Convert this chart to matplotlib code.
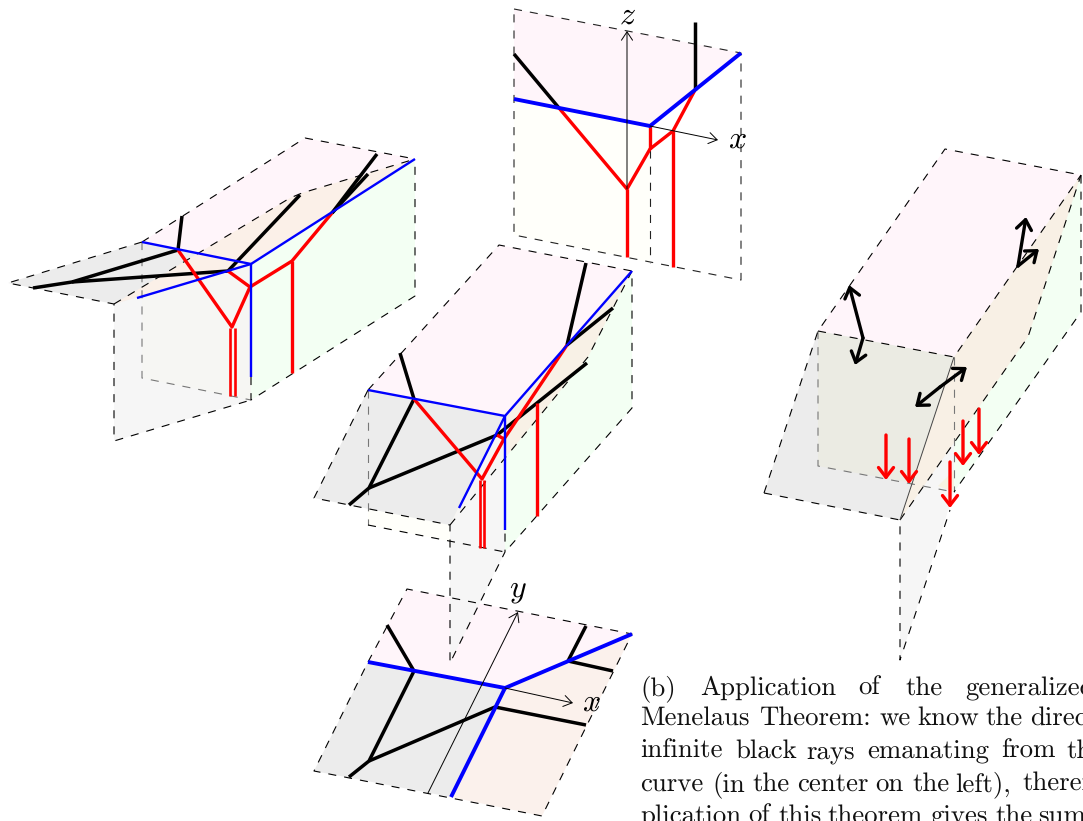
import matplotlib
matplotlib.use('Agg')
import matplotlib.pyplot as plt

PINK = '#fff5fa'
GREY = '#ececec'
ORANGE = '#fbf0e8'
GREEN = '#f3fff3'
FRONT = '#f6f6f6'
YELLOW = '#fffffa'

# left box
left_fills = [
    (FRONT, [(114, 304), (114, 441), (251, 400), (251, 264)]),
    ('#f6f6f3', [(142, 242), (142, 378), (251, 400), (251, 264)]),
    (GREEN, [(251, 264), (415, 159), (415, 296), (251, 400)]),
    (PINK, [(305, 138), (415, 159), (251, 264), (142, 242)]),
    (GREY, [(142, 242), (8, 283), (114, 304), (251, 264)]),
    (ORANGE, [(114, 304), (251, 264), (415, 159), (302, 193), (290, 198)]),
]
left_dashed = [
    [(142, 242), (305, 138), (415, 159)],
    [(142, 242), (8, 283), (114, 304), (114, 441), (251, 400)],
    [(251, 377), (251, 400), (415, 296), (415, 159)],
    [(114, 304), (290, 198), (302, 193), (415, 159)],
]
left_grey_dashed = [[(142, 242), (142, 378), (251, 400)]]
left_black = [
    [(182, 216), (178, 250)],
    [(33, 288), (72, 282), (178, 250)],
    [(72, 282), (228, 271), (300, 195)],
    [(332, 213), (377, 154)],
    [(332, 213), (368, 174)],
]
left_red = [
    [(178, 250), (232, 327), (250, 287), (292, 261), (332, 213)],
    [(228, 271), (250, 287)],
    [(292, 261), (292, 373)],
]
left_double = [[(230, 328), (230, 396)], [(235, 328), (235, 396)]]
left_blue = [
    [(142, 242), (251, 264), (415, 159)],
    [(137, 298), (251, 264), (251, 377)],
]

# middle box
mid_fills = [
    (YELLOW, [(368, 390), (368, 525), (505, 552), (505, 416)]),
    (GREEN, [(505, 416), (632, 271), (632, 408), (505, 552)]),
    (PINK, [(499, 245), (632, 271), (505, 416), (368, 390)]),
    (GREY, [(368, 390), (505, 416), (450, 525), (314, 498)]),
    ('#f8f1e6', [(505, 416), (632, 271), (588, 357), (450, 525)]),
]
mid_front = [(450, 525), (505, 416), (505, 552), (450, 663)]
mid_dashed = [
    [(368, 390), (499, 245), (632, 271), (632, 408), (505, 552)],
    [(368, 390), (314, 498), (450, 525), (450, 663), (505, 552), (505, 530)],
    [(450, 525), (588, 357), (632, 271)],
    [(368, 525), (505, 552)],
]
mid_grey_dashed = [[(368, 390), (368, 525)]]
mid_black = [
    [(400, 353), (414, 399), (369, 488), (349, 505)],
    [(369, 488), (497, 435), (537, 403), (587, 363)],
    [(586, 263), (567, 345)],
    [(567, 345), (613, 308)],
]
mid_red = [
    [(414, 399), (482, 479), (504, 439), (567, 345)],
    [(497, 435), (504, 439)],
    [(537, 403), (537, 516)],
]
mid_double = [[(480, 480), (480, 548)], [(484, 480), (484, 548)]]
mid_blue = [
    [(368, 390), (505, 416), (632, 271)],
    [(505, 416), (505, 530)],
    [(505, 416), (459, 508)],
]

# bottom plane
bot_fills = [
    (PINK, [(407, 589), (632, 634), (505, 688), (368, 662)]),
    (GREY, [(368, 662), (505, 688), (451, 797), (314, 771)]),
    ('#fbf1ec', [(505, 688), (632, 634), (542, 816), (451, 797)]),
]
bot_dashed = [[(368, 662), (407, 589), (632, 634), (542, 816), (314, 771), (368, 662)]]
bot_black = [
    [(387, 625), (414, 671), (369, 761), (349, 777)],
    [(369, 761), (495, 707), (586, 725)],
    [(586, 626), (568, 661), (613, 671)],
]
bot_blue = [
    [(368, 662), (505, 688), (632, 634)],
    [(505, 688), (451, 797)],
]
bot_axes = [((428, 793), (518, 612)), ((505, 688), (573, 703))]

# top plane
top_fills = [
    (PINK, [(514, 9), (741, 53), (650, 126), (514, 99)]),
    (YELLOW, [(514, 99), (650, 126), (650, 262), (514, 235)]),
]
top_dashed = [
    [(514, 9), (741, 53), (741, 280), (514, 235), (514, 9)],
    [(650, 150), (650, 263)],
]
top_black = [[(695, 22), (695, 90)], [(514, 54), (559, 108)]]
top_red = [
    [(559, 108), (627, 189), (650, 149), (673, 131), (695, 90)],
    [(650, 126), (650, 149)],
    [(627, 189), (627, 257)],
    [(673, 131), (673, 267)],
]
top_blue = [[(514, 99), (650, 126), (741, 53)]]
top_axes = [((627, 189), (627, 31)), ((650, 126), (718, 140))]

# right box
right_fills = [
    (FRONT, [(900, 520), (954, 357), (954, 492), (900, 660)]),
    (GREEN, [(954, 357), (1081, 175), (1081, 312), (954, 492)]),
    (PINK, [(945, 149), (1081, 175), (954, 357), (818, 331)]),
    (GREY, [(818, 331), (954, 357), (900, 520), (764, 493)]),
    ('#ebebe3', [(818, 331), (954, 357), (912, 483), (818, 466)]),
    ('#f8f0e5', [(954, 357), (1081, 175), (1028, 337), (900, 520)]),
    ('#f6f3e2', [(938, 486), (954, 492), (954, 470)]),
]
right_dashed = [
    [(764, 493), (818, 331), (945, 149), (1081, 175), (1081, 312), (954, 492)],
    [(818, 331), (954, 357), (1081, 175)],
    [(764, 493), (900, 520), (900, 660), (950, 510)],
    [(900, 520), (1028, 337), (1081, 175)],
]
right_grey_dashed = [
    [(818, 331), (818, 466), (954, 492)],
    [(954, 357), (954, 492)],
]
right_thin = [[(954, 357), (900, 520)]]
black_arrows = [
    ((863, 338), (849, 285)),
    ((863, 338), (855, 365)),
    ((940, 387), (915, 407)),
    ((940, 387), (967, 367)),
    ((1018, 266), (1026, 217)),
    ((1018, 266), (1039, 249)),
]
red_arrows = [
    ((886, 435), (886, 480)),
    ((909, 439), (909, 484)),
    ((963, 421), (963, 466)),
    ((979, 409), (979, 455)),
    ((950, 462), (950, 508)),
]

axis_labels = [('$z$', 627, 15), ('$x$', 737, 139), ('$y$', 518, 590), ('$x$', 591, 702)]

caption_words = [
    (695, [('(b)', 640), ('Application', 700), ('of', 858), ('the', 905), ('generalized', 965)]),
    (725, [('Menelaus', 640), ('Theorem:', 759), ('we', 880), ('know', 917), ('the', 985), ('directions', 1030)]),
    (758, [('infinite', 640), ('black', 735), ('rays', 806), ('emanating', 867), ('from', 1001), ('the', 1066)]),
    (791, [('curve', 640), ('(in', 712), ('the', 752), ('center', 797), ('on', 875), ('the', 912), ('left),', 955), ('therefore', 1022)]),
    (823, [('plication', 640), ('of', 748), ('this', 778), ('theorem', 827), ('gives', 930), ('the', 995), ('sum', 1038)]),
]

plt.rcParams['lines.scale_dashes'] = False
plt.rcParams['mathtext.fontset'] = 'cm'
plt.rcParams['axes.unicode_minus'] = False
plt.rcParams['text.hinting'] = 'no_hinting'
plt.rcParams['text.hinting_factor'] = 1

fig = plt.figure(figsize=(10.83, 8.21), dpi=100)
ax = fig.add_axes([0, 0, 1, 1])
ax.set_xlim(0, 1083)
ax.set_ylim(821, 0)
ax.axis('off')


def fills(items):
    for color, pts in items:
        ax.fill(*zip(*pts), color=color, lw=0)


def lines(items, color, width, style='-'):
    for pts in items:
        if style == '-':
            ax.plot(*zip(*pts), color=color, lw=width, solid_capstyle='butt', solid_joinstyle='round')
        else:
            ax.plot(*zip(*pts), color=color, lw=width, dashes=(5.8, 5.8), dash_capstyle='butt')


def arrows(items, color, width, style):
    for start, end in items:
        ax.annotate('', xy=end, xytext=start,
                    arrowprops=dict(arrowstyle=style, color=color, lw=width, shrinkA=0, shrinkB=0,
                                    mutation_scale=20))


THICK_HEAD = '->,head_length=0.35,head_width=0.27'
THIN_HEAD = '->,head_length=0.3,head_width=0.2'

fills(left_fills)
lines(left_grey_dashed, '#777777', 0.8, '--')
lines(left_dashed, 'black', 0.8, '--')
lines(left_black, 'black', 2.5)
lines(left_red, 'red', 2.4)
lines(left_double, 'red', 1.9)
lines(left_blue, 'blue', 1.7)

fills(bot_fills)
fills(mid_fills)
fills(top_fills)
ax.fill(*zip(*mid_front), color=FRONT, lw=0, alpha=0.9)
lines(bot_dashed, 'black', 0.8, '--')
lines(mid_grey_dashed, '#777777', 0.8, '--')
lines(mid_dashed, 'black', 0.8, '--')
lines(bot_black, 'black', 2.5)
lines(bot_blue, 'blue', 2.8)
arrows(bot_axes, 'black', 0.7, THIN_HEAD)

lines(mid_black, 'black', 2.5)
lines(mid_red, 'red', 2.4)
lines(mid_double, 'red', 1.9)
lines(mid_blue, 'blue', 1.7)

lines(top_dashed, '#222222', 0.8, '--')
arrows(top_axes, 'black', 0.7, THIN_HEAD)
lines(top_black, 'black', 2.5)
lines(top_red, 'red', 2.4)
lines(top_blue, 'blue', 2.8)

fills(right_fills)
lines(right_grey_dashed, '#777777', 0.8, '--')
lines(right_dashed, 'black', 0.8, '--')
lines(right_thin, '#444444', 0.7)
arrows(black_arrows, 'black', 2.4, THICK_HEAD)
arrows(red_arrows, 'red', 2.4, THICK_HEAD)

for label, x, y in axis_labels:
    ax.text(x, y, label, fontsize=23, ha='center', va='center')

for base, words in caption_words:
    for word, x in words:
        ax.text(x, base, word, fontsize=19.3, family='cmr10', ha='left', va='baseline', color='#111111')

fig.savefig('out.png', dpi=100)
